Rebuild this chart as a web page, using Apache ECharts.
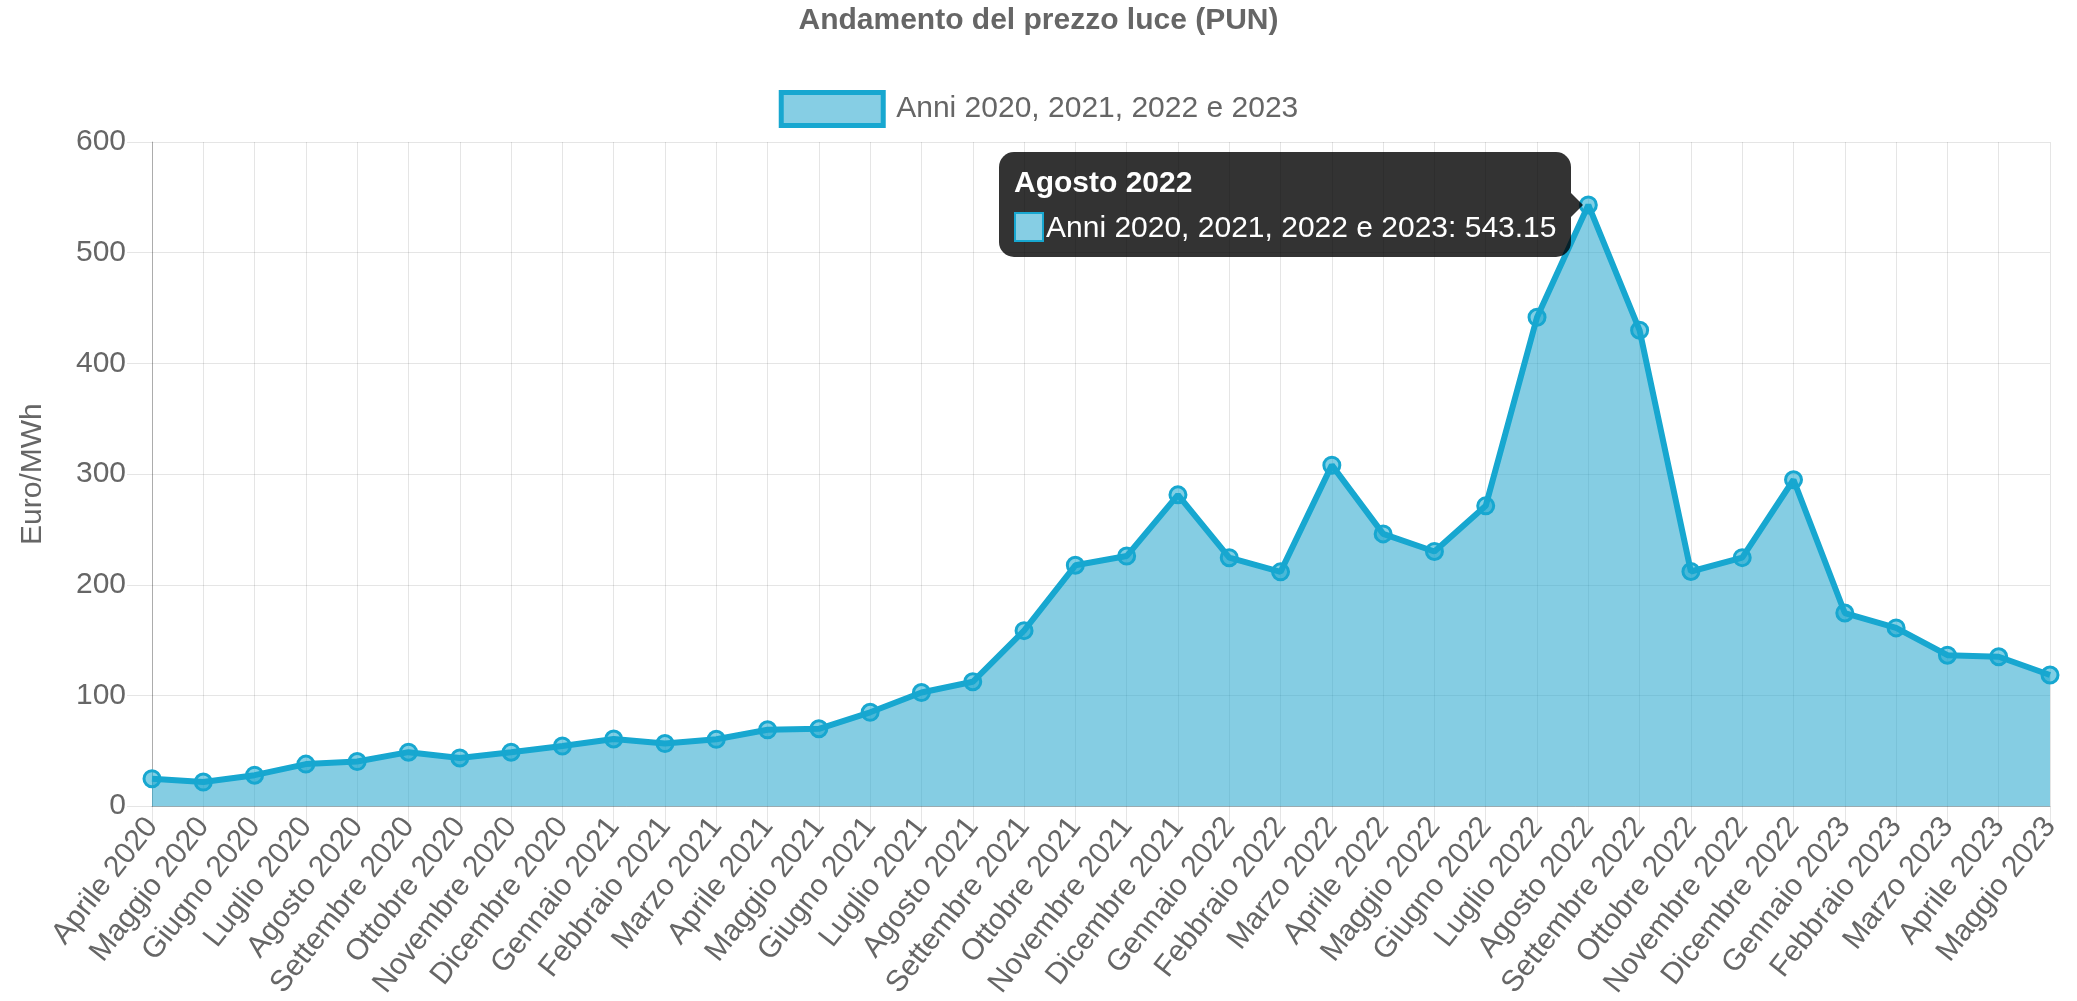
<!DOCTYPE html>
<html>
<head>
<meta charset="utf-8">
<title>Andamento del prezzo luce (PUN)</title>
<script src="https://cdn.jsdelivr.net/npm/echarts@6/dist/echarts.min.js"></script>
<style>
  html, body { margin: 0; padding: 0; background: #fff; }
  #chart { width: 2077px; height: 1001px; }
</style>
</head>
<body>
<div id="chart"></div>
<script>
// Monthly PUN price, Euro/MWh
const months = [
  'Aprile 2020', 'Maggio 2020', 'Giugno 2020', 'Luglio 2020', 'Agosto 2020',
  'Settembre 2020', 'Ottobre 2020', 'Novembre 2020', 'Dicembre 2020',
  'Gennaio 2021', 'Febbraio 2021', 'Marzo 2021', 'Aprile 2021', 'Maggio 2021',
  'Giugno 2021', 'Luglio 2021', 'Agosto 2021', 'Settembre 2021', 'Ottobre 2021',
  'Novembre 2021', 'Dicembre 2021',
  'Gennaio 2022', 'Febbraio 2022', 'Marzo 2022', 'Aprile 2022', 'Maggio 2022',
  'Giugno 2022', 'Luglio 2022', 'Agosto 2022', 'Settembre 2022', 'Ottobre 2022',
  'Novembre 2022', 'Dicembre 2022',
  'Gennaio 2023', 'Febbraio 2023', 'Marzo 2023', 'Aprile 2023', 'Maggio 2023'
];
const pun = [
  24.81, 21.79, 28.01, 38.01, 40.32, 48.80, 43.57, 48.75, 54.34,
  60.71, 56.57, 60.41, 69.02, 69.93, 84.80, 102.65, 112.40, 158.59, 217.63,
  225.95, 281.24,
  224.50, 211.69, 308.07, 245.97, 230.06, 271.31, 441.65, 543.15, 429.92,
  211.99, 224.51, 294.91,
  174.49, 161.07, 136.38, 134.97, 118.50
];
const seriesName = 'Anni 2020, 2021, 2022 e 2023';
const chartTitle = 'Andamento del prezzo luce (PUN)';
const yAxisName = 'Euro/MWh';
const yMin = 0, yMax = 600, yStep = 100;
const highlighted = months.indexOf('Agosto 2022');

const FONT = '"Liberation Sans", Arial, Helvetica, sans-serif';
const LINE = '#17a7d0';
const FILL = 'rgba(33,164,204,0.55)';
const SWATCH = '#86cee4';
const GRID = 'rgba(0,0,0,0.1)';
const AXIS = 'rgba(0,0,0,0.25)';
const TEXT = '#666';

const chart = echarts.init(document.getElementById('chart'), null, { renderer: 'canvas' });

chart.setOption({
  animation: false,
  textStyle: { fontFamily: FONT },
  title: {
    text: chartTitle,
    left: 'center',
    top: 6,
    padding: 0,
    textStyle: { fontFamily: FONT, fontSize: 30, fontWeight: 'bold', color: TEXT }
  },
  legend: {
    top: 85,
    left: 'center',
    itemWidth: 102,
    itemHeight: 33,
    selectedMode: false,
    textStyle: { fontFamily: FONT, fontSize: 30, color: TEXT, padding: [0, 0, 0, 8] },
    data: [{
      name: seriesName,
      icon: 'rect',
      itemStyle: { color: SWATCH, borderColor: LINE, borderWidth: 5 }
    }]
  },
  tooltip: {
    trigger: 'item',
    triggerOn: 'none',
    alwaysShowContent: true,
    transitionDuration: 0,
    showDelay: 0,
    hideDelay: 0,
    backgroundColor: 'rgba(0,0,0,0.8)',
    borderWidth: 0,
    borderRadius: 15,
    padding: [15, 15, 15, 15],
    extraCssText: 'box-shadow:none;overflow:visible;',
    textStyle: { fontFamily: FONT, fontSize: 30, color: '#fff' },
    position: function (point, params, dom, rect, size) {
      return [point[0] - size.contentSize[0] - 17, point[1] - size.contentSize[1] / 2];
    },
    formatter: function (p) {
      return '<div style="position:relative;font-family:' + FONT.replace(/"/g, "'") + ';color:#fff;">' +
        '<div style="font-weight:bold;font-size:30px;line-height:30px;margin-bottom:15px;">' + p.name + '</div>' +
        '<div style="font-size:30px;line-height:30px;white-space:nowrap;">' +
        '<span style="display:inline-block;box-sizing:border-box;width:30px;height:30px;vertical-align:top;' +
        'background:' + SWATCH + ';border:2px solid ' + LINE + ';margin-right:2px;"></span>' +
        p.seriesName + ': ' + p.value + '</div>' +
        '<div style="position:absolute;right:-27px;top:50%;margin-top:-12px;width:0;height:0;' +
        'border-top:12px solid transparent;border-bottom:12px solid transparent;' +
        'border-left:12px solid rgba(0,0,0,0.8);"></div>' +
        '</div>';
    }
  },
  grid: { left: 152, right: 27, top: 142, bottom: 193, containLabel: false },
  xAxis: {
    type: 'category',
    data: months,
    boundaryGap: false,
    axisLine: { show: true, lineStyle: { color: AXIS, width: 1 } },
    axisTick: { show: true, length: 25, interval: 0, lineStyle: { color: GRID } },
    splitLine: { show: true, interval: 0, lineStyle: { color: GRID, width: 1 } },
    axisLabel: {
      interval: 0,
      rotate: 52,
      margin: 15,
      fontFamily: FONT,
      fontSize: 30,
      color: TEXT
    }
  },
  yAxis: {
    type: 'value',
    min: yMin,
    max: yMax,
    interval: yStep,
    name: yAxisName,
    nameLocation: 'middle',
    nameRotate: 90,
    nameGap: 104,
    nameTextStyle: { fontFamily: FONT, fontSize: 30, color: TEXT },
    axisLine: { show: true, lineStyle: { color: AXIS, width: 1 } },
    axisTick: { show: true, length: 25, lineStyle: { color: GRID } },
    splitLine: { show: true, lineStyle: { color: GRID, width: 1 } },
    axisLabel: { margin: 26, fontFamily: FONT, fontSize: 30, color: TEXT }
  },
  series: [{
    name: seriesName,
    type: 'line',
    data: pun,
    smooth: false,
    symbol: 'circle',
    symbolSize: 16,
    showSymbol: true,
    lineStyle: { color: LINE, width: 6 },
    itemStyle: { color: 'rgba(23,167,207,0.55)', borderColor: LINE, borderWidth: 3 },
    areaStyle: { color: FILL, opacity: 1, origin: 'start' },
    emphasis: { disabled: true }
  }]
});

chart.dispatchAction({ type: 'showTip', seriesIndex: 0, dataIndex: highlighted });
</script>
</body>
</html>
